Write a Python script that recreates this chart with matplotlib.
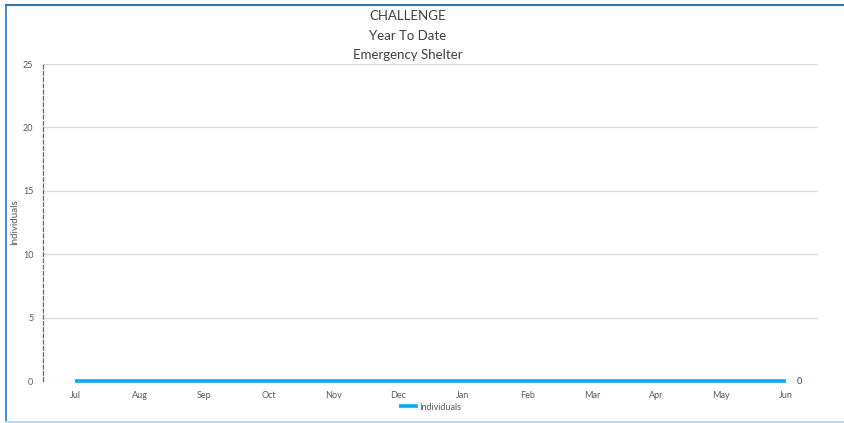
import matplotlib
matplotlib.use("Agg")
import matplotlib.pyplot as plt

plt.rcParams['font.family'] = ['Lato', 'DejaVu Sans']

months = ['Jul', 'Aug', 'Sep', 'Oct', 'Nov', 'Dec', 'Jan', 'Feb', 'Mar', 'Apr', 'May', 'Jun']
individuals = [0, 0, 0, 0, 0, 0, 0, 0, 0, 0, 0, 0]
yticks = [0, 5, 10, 15, 20, 25]

W, H = 844, 423
fig = plt.figure(figsize=(W / 100, H / 100), dpi=100)

# chart frame (top/left dark blue, bottom light blue)
fig.add_artist(plt.Line2D([6 / W, 6 / W], [1 - 5 / H, 1 - 422 / H], color='#2E75B6', lw=1.2))
fig.add_artist(plt.Line2D([6 / W, 1.0], [1 - 5 / H, 1 - 5 / H], color='#2E75B6', lw=1.5))
fig.add_artist(plt.Line2D([6 / W, 1.0], [1 - 422 / H, 1 - 422 / H], color='#BDD7EE', lw=1.5))

left, right = 43, 818
top, bottom = 64, 381
ax = fig.add_axes([left / W, 1 - bottom / H, (right - left) / W, (bottom - top) / H])

x = list(range(len(months)))
line, = ax.plot(x, individuals, color='#00B0F0', lw=2.6, solid_capstyle='butt', label='Individuals',
                zorder=3, clip_on=False)
ax.annotate(str(individuals[-1]), (x[-1], individuals[-1]), xytext=(10, 0), textcoords='offset points',
            ha='center', va='center', fontsize=6.5, color='#404040')

ax.set_xlim(-0.5, len(months) - 0.5)
ax.set_ylim(0, 25)
ax.set_yticks(yticks)
ax.set_xticks(x)
ax.set_xticklabels(months)
ax.tick_params(axis='both', length=0, labelsize=6.5, labelcolor='#595959')
ax.tick_params(axis='x', pad=7)
ax.tick_params(axis='y', pad=7)
ax.grid(axis='y', color='#D9D9D9', lw=0.9)
ax.set_axisbelow(True)
for s in ['top', 'right', 'bottom']:
    ax.spines[s].set_visible(False)
ax.spines['left'].set_color('#2E75B6')
ax.spines['left'].set_linestyle((0, (3, 2)))
ax.spines['left'].set_linewidth(0.9)

ax.set_ylabel('Individuals', fontsize=7, color='#595959')
ax.yaxis.set_label_coords(-0.031, 0.5)

title_lines = ['CHALLENGE', 'Year To Date', 'Emergency Shelter']
for i, t in enumerate(title_lines):
    fig.text(408 / W, 1 - (16 + 19.5 * i) / H, t, ha='center', va='center', fontsize=9.5, color='#404040')

fig.legend(handles=[line], loc='center', bbox_to_anchor=(430 / W, 1 - 407 / H), frameon=False,
           fontsize=6.5, labelcolor='#595959', handlelength=2.2, handletextpad=0.1)

fig.savefig('out.png', dpi=100)
